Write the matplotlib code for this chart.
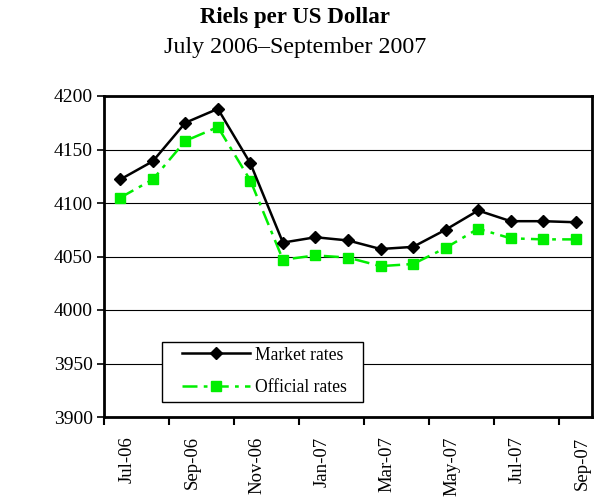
import matplotlib
matplotlib.use("Agg")
import matplotlib.pyplot as plt
from matplotlib.patches import Rectangle
import numpy as np

months = ["Jul-06", "Aug-06", "Sep-06", "Oct-06", "Nov-06", "Dec-06", "Jan-07", "Feb-07",
          "Mar-07", "Apr-07", "May-07", "Jun-07", "Jul-07", "Aug-07", "Sep-07"]
market = [4122, 4139, 4175, 4188, 4137, 4063, 4068, 4065, 4057, 4059, 4075, 4093, 4083, 4083, 4082]
official = [4105, 4122, 4158, 4171, 4121, 4047, 4051, 4049, 4041, 4043, 4058, 4076, 4067, 4066, 4066]
yticks = [3900, 3950, 4000, 4050, 4100, 4150, 4200]

plt.rcParams['font.family'] = ['Liberation Serif', 'DejaVu Serif']

fig = plt.figure(figsize=(5.99, 4.99), dpi=100)
L, R, T, B = 104, 592, 96, 417
ax = fig.add_axes([L/599, 1-B/499, (R-L)/599, (B-T)/499])
W, H = R - L, B - T

x = np.arange(len(months))
ax.plot(x, market, color='black', lw=1.8, marker='D', ms=6.5, label='Market rates', zorder=4)
ax.plot(x, official, color='#00ee00', lw=1.8, ls=(0, (6, 2.5, 1.5, 2.5)), marker='s', ms=7.5,
        label='Official rates', zorder=3)

ax.set_xlim(-0.5, len(months) - 0.5)
ax.set_ylim(3900, 4200)
ax.set_yticks(yticks)
ax.set_yticklabels([str(v) for v in yticks], fontsize=14)
ax.yaxis.grid(True, color='black', lw=0.8)
ax.set_axisbelow(True)

# tick marks at category boundaries, labels at every other category
ax.set_xticks(np.arange(-0.5, len(months) - 0.5 + 0.01, 2))
ax.set_xticklabels([])
ax.tick_params(axis='x', which='major', direction='out', length=6, width=1.5)
ax.set_xticks(x[::2] + 0.2, minor=True)
ax.set_xticklabels(months[::2], minor=True, rotation=90, fontsize=13.5)
ax.tick_params(axis='x', which='minor', length=0, pad=14)
ax.tick_params(axis='y', direction='out', length=5, width=1.2, pad=3)

for s in ax.spines.values():
    s.set_linewidth(2)
    s.set_color('black')

# legend box
ax.add_patch(Rectangle(((162-L)/W, (B-402)/H), (363-162)/W, (402-342)/H, transform=ax.transAxes,
                       facecolor='white', edgecolor='black', lw=1, zorder=2.5))
leg = ax.legend(loc='center left', bbox_to_anchor=((182-L)/W, (B-371.5)/H),
                fontsize=12.7, frameon=False, handlelength=3.86, borderpad=0,
                labelspacing=0.9, handletextpad=0.28, borderaxespad=0)

fig.text(295/599, 1-18/499, "Riels per US Dollar", ha='center', va='center', fontsize=16.5, fontweight='bold')
fig.text(295/599, 1-47/499, "July 2006\u2013September 2007", ha='center', va='center', fontsize=17.3)

fig.savefig("out.png", dpi=100)
